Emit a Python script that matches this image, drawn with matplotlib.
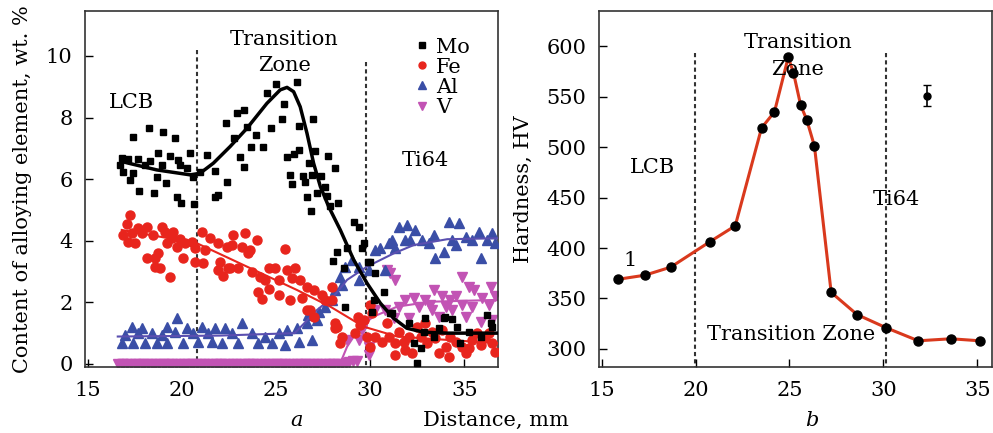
import matplotlib
matplotlib.use('Agg')
import matplotlib.pyplot as plt
from matplotlib.lines import Line2D

plt.rcParams['font.family'] = 'DejaVu Serif'
plt.rcParams['font.size'] = 15

# ---- panel a: alloying element content ----
mo_x = [17.43, 18.26, 19.02, 19.64, 18.76, 19.38, 19.82, 20.44, 17.16, 17.69, 18.31, 16.89,
        17.43, 18.05, 18.94, 19.91, 20.27, 17.25, 18.67, 19.16, 17.74, 18.53, 19.73, 20.62,
        20.97, 21.33, 21.77, 22.39, 21.91, 22.34, 22.93, 23.33, 22.78, 23.10, 23.28, 23.67,
        23.46, 23.95, 24.34, 24.55, 25.02, 26.12, 25.44, 25.32, 24.73, 26.24, 26.97, 25.59,
        25.94, 26.20, 27.05, 27.74, 28.15, 25.76, 26.44, 26.91, 27.39, 25.85, 26.56, 27.18,
        27.62, 27.71, 19.96, 20.67, 21.77, 26.77, 26.65, 26.88, 28.30, 27.89, 29.13, 29.39,
        29.70, 28.24, 28.78, 28.03, 28.60, 29.87, 28.69, 30.19, 30.11, 30.72, 31.08, 32.05,
        32.32, 32.50, 32.85, 32.68, 33.38, 33.99, 34.63, 35.24, 36.22, 36.49, 34.80, 35.87,
        29.57, 30.02, 30.28, 31.17, 32.94, 33.91, 34.36, 36.40, 33.65, 16.72, 16.80]
mo_y = [7.36, 7.66, 7.53, 7.35, 6.84, 6.75, 6.62, 6.84, 6.65, 6.65, 6.60, 6.24,
        6.19, 6.45, 6.47, 6.46, 6.35, 5.97, 6.08, 5.89, 5.63, 5.54, 5.43, 6.08,
        6.24, 6.79, 6.27, 5.92, 5.49, 7.83, 8.14, 8.25, 7.33, 6.73, 6.41, 7.06,
        7.70, 7.44, 7.06, 8.79, 9.09, 9.17, 8.44, 7.94, 7.67, 7.73, 7.94, 6.73,
        6.82, 6.95, 6.93, 6.75, 6.35, 6.14, 6.10, 6.14, 6.10, 5.84, 5.92, 5.54,
        5.76, 5.45, 5.24, 5.19, 5.41, 6.54, 5.43, 4.95, 5.22, 5.13, 4.62, 4.46,
        3.92, 3.65, 3.76, 3.34, 3.11, 3.32, 1.86, 2.08, 1.70, 2.35, 1.65, 1.32,
        0.67, 0.02, 1.05, 0.51, 0.89, 1.54, 1.21, 1.05, 1.59, 1.21, 0.67, 0.89,
        3.76, 3.32, 2.94, 1.67, 1.48, 1.48, 1.45, 1.32, 1.16, 6.45, 6.70]
mo_fit_x = [16.9, 17.16, 18.67, 20.44, 20.97, 21.68, 22.57, 23.46, 24.52, 25.23, 25.59, 25.94,
            26.29, 26.65, 27.0, 27.36, 27.80, 28.42, 29.13, 29.84, 30.55, 31.26, 31.95, 32.85,
            34.10, 36.8]
mo_fit_y = [6.56, 6.52, 6.30, 6.14, 6.19, 6.52, 7.06, 7.65, 8.46, 8.90, 8.98, 8.84,
            8.35, 7.49, 6.52, 5.76, 5.11, 4.35, 3.38, 2.62, 1.97, 1.48, 1.16, 1.03,
            1.0, 1.0]

fe_x = [17.25, 17.07, 17.69, 18.14, 18.94, 16.89, 17.34, 17.87, 18.49, 19.11, 19.55, 19.47,
        19.91, 20.18, 20.53, 21.06, 21.50, 21.95, 22.39, 17.52, 17.16, 19.20, 19.73, 20.71,
        21.24, 18.76, 18.14, 18.58, 20.09, 20.71, 21.15, 22.04, 18.58, 18.85, 19.38, 21.95,
        22.21, 22.57, 22.74, 23.37, 23.99, 22.66, 23.19, 23.63, 23.54, 25.49, 22.48, 23.01,
        23.72, 24.16, 24.61, 24.96, 25.59, 26.03, 24.43, 25.14, 25.85, 26.29, 24.07, 24.61,
        25.14, 25.76, 24.25, 26.65, 27.00, 27.45, 27.98, 26.38, 27.62, 26.65, 27.00, 28.15,
        28.51, 28.42, 28.15, 29.22, 29.48, 29.38, 29.66, 30.02, 30.11, 29.82, 30.28, 30.64,
        30.99, 31.35, 31.79, 31.88, 32.23, 32.68, 32.94, 33.03, 33.47, 33.65, 34.01, 34.27,
        34.54, 34.89, 35.07, 35.43, 35.87, 36.13, 36.49, 36.66, 32.50, 30.90, 31.52, 33.83,
        33.30, 32.05, 35.69, 36.31, 35.24, 34.18, 31.35, 30.02, 27.97, 28.24, 26.82]
fe_y = [4.84, 4.55, 4.41, 4.46, 4.46, 4.19, 4.24, 4.24, 4.19, 4.30, 4.30, 4.08,
        4.05, 3.92, 3.97, 4.30, 4.08, 3.92, 3.81, 3.92, 3.97, 3.92, 3.81, 3.76,
        3.70, 3.61, 3.43, 3.43, 3.43, 3.32, 3.27, 3.32, 3.16, 3.11, 2.83, 3.05,
        2.86, 3.11, 4.19, 4.24, 4.03, 3.86, 3.81, 3.70, 3.59, 3.72, 3.11, 3.11,
        3.00, 2.83, 3.11, 3.11, 3.05, 3.11, 2.73, 2.73, 2.78, 2.73, 2.35, 2.42,
        2.24, 2.08, 2.10, 2.49, 2.40, 2.24, 2.51, 2.13, 2.08, 1.75, 1.54, 1.16,
        0.89, 0.67, 1.32, 1.00, 1.27, 1.54, 1.43, 1.92, 1.65, 0.89, 0.89, 0.72,
        0.89, 0.67, 0.72, 0.45, 0.35, 0.89, 1.32, 0.67, 0.83, 0.35, 0.56, 0.89,
        0.72, 0.56, 0.35, 0.78, 0.62, 0.89, 0.67, 0.40, 1.21, 1.32, 1.05, 1.10,
        1.05, 0.89, 1.00, 1.00, 0.51, 0.24, 0.29, 0.56, 2.08, 1.21, 1.75]
fe_fit_x = [16.81, 20.80, 23.46, 26.12, 27.89, 29.66, 31.44, 34.10, 36.8]
fe_fit_y = [4.35, 3.92, 3.16, 2.40, 1.86, 1.21, 0.89, 0.78, 0.67]

al_x = [17.34, 17.87, 19.73, 19.20, 20.27, 21.06, 21.77, 22.30, 16.98, 17.69, 18.40, 18.94,
        19.64, 20.62, 21.41, 16.81, 17.43, 18.05, 18.67, 19.20, 20.09, 20.88, 21.60, 22.13,
        23.19, 22.66, 23.72, 24.43, 25.14, 25.59, 26.12, 26.65, 23.01, 24.07, 24.79, 25.49,
        26.20, 26.91, 26.73, 27.27, 27.62, 27.97, 27.18, 28.15, 28.42, 28.69, 29.04, 28.51,
        29.39, 29.39, 29.92, 30.81, 30.28, 30.55, 30.99, 31.17, 31.52, 31.97, 32.41, 32.14,
        32.77, 33.38, 33.46, 33.91, 34.18, 34.71, 34.36, 35.07, 35.43, 35.87, 35.78, 36.22,
        36.49, 36.66, 31.35, 31.88, 33.12, 34.54]
al_y = [1.21, 1.16, 1.48, 1.21, 1.16, 1.21, 1.16, 1.16, 0.94, 1.00, 1.00, 0.94,
        1.05, 1.00, 1.00, 0.67, 0.67, 0.67, 0.67, 0.69, 0.67, 0.72, 0.72, 0.67,
        1.32, 1.00, 1.00, 0.89, 1.00, 1.10, 1.16, 1.32, 0.67, 0.67, 0.67, 0.62,
        0.72, 0.78, 1.59, 1.70, 1.86, 2.08, 1.43, 2.40, 2.83, 3.16, 3.38, 2.56,
        2.73, 3.16, 3.05, 3.05, 3.70, 3.76, 3.92, 4.03, 4.46, 4.51, 4.35, 4.03,
        4.03, 4.19, 3.43, 3.65, 4.62, 4.57, 4.03, 4.13, 4.03, 3.43, 4.30, 4.03,
        4.24, 3.92, 3.76, 4.03, 3.92, 3.86]
al_fit_x = [16.6, 22.0, 26.0, 27.18, 28.06, 28.78, 29.84, 31.26, 32.32, 34.10, 36.8]
al_fit_y = [0.89, 0.92, 1.0, 1.75, 2.19, 2.73, 3.16, 3.59, 3.86, 4.05, 4.08]

v_x = [16.6, 16.8, 16.9, 17.1, 17.3, 17.5, 17.7, 17.9, 18.0, 18.2, 18.4, 18.6, 18.8, 19.0,
       19.1, 19.3, 19.5, 19.7, 19.9, 20.1, 20.3, 20.5, 20.6, 20.8, 21.0, 21.2, 21.4, 21.6,
       21.8, 22.0, 22.1, 22.3, 22.5, 22.7, 22.9, 23.1, 23.3, 23.5, 23.6, 23.8, 24.0, 24.2,
       24.4, 24.6, 24.8, 25.0, 25.1, 25.3, 25.5, 25.7, 25.9, 26.1, 26.3, 26.5, 26.6, 26.8,
       27.0, 27.2, 27.4, 27.6, 27.8, 28.0, 28.1, 28.3, 28.5, 28.7, 28.9, 29.1, 29.3,
       28.78, 29.39, 29.56, 29.75, 29.92, 29.92, 30.28, 30.81, 31.26, 32.05, 33.65, 35.07,
       35.87, 36.49, 33.30, 34.36, 31.52, 32.59, 33.21, 34.01, 34.89, 35.43, 36.31, 31.88,
       32.32, 32.94, 33.83, 34.27, 34.54, 35.96, 36.66, 33.38, 34.89, 35.24, 35.51, 36.40,
       30.90, 31.35, 31.08]
v_y = [0.0, 0.0, 0.0, 0.0, 0.0, 0.0, 0.0, 0.0, 0.0, 0.0, 0.0, 0.0, 0.0, 0.0,
       0.0, 0.0, 0.0, 0.0, 0.0, 0.0, 0.0, 0.0, 0.0, 0.0, 0.0, 0.0, 0.0, 0.0,
       0.0, 0.0, 0.0, 0.0, 0.0, 0.0, 0.0, 0.0, 0.0, 0.0, 0.0, 0.0, 0.0, 0.0,
       0.0, 0.0, 0.0, 0.0, 0.0, 0.0, 0.0, 0.0, 0.0, 0.0, 0.0, 0.0, 0.0, 0.0,
       0.0, 0.0, 0.0, 0.0, 0.0, 0.0, 0.0, 0.0, 0.0, 0.02, 0.05, 0.08, 0.1,
       0.78, 0.78, 1.10, 1.37, 0.56, 0.29, 1.75, 1.75, 1.48, 1.48, 1.54, 1.54,
       1.37, 1.43, 1.75, 1.75, 1.86, 1.86, 1.92, 1.86, 1.92, 1.86, 1.92, 2.08,
       2.13, 2.08, 2.19, 2.08, 2.19, 2.13, 2.19, 2.40, 2.83, 2.51, 2.40, 2.51,
       3.05, 2.73, 2.94]
v_fit_x = [16.6, 28.4, 28.78, 29.48, 30.19, 31.44, 33.21, 36.8]
v_fit_y = [0.0, 0.0, 0.56, 1.21, 1.54, 1.86, 2.02, 2.08]

# ---- panel b: hardness ----
hv_x = [15.87, 17.29, 18.67, 20.74, 22.11, 23.51, 24.20, 24.93, 25.21, 25.59, 25.92, 26.33,
        27.22, 28.60, 30.14, 31.86, 33.60, 35.14]
hv_y = [369, 373, 381, 406, 422, 519, 535, 589, 574, 542, 527, 501,
        356, 334, 321, 308, 310, 308]

MO_C = 'black'
FE_C = '#e8251d'
AL_C = '#3a4ea6'
V_C = '#c253b4'

fig = plt.figure(figsize=(9.93, 4.33), dpi=100)
ax1 = fig.add_axes([0.0856, 0.1524, 0.416, 0.8222])
ax2 = fig.add_axes([0.6032, 0.1524, 0.396, 0.8222])

# panel a
ax1.plot(v_fit_x, v_fit_y, color=V_C, lw=1.5, zorder=2)
ax1.plot(v_x, v_y, linestyle='none', marker='v', ms=7, color=V_C, zorder=2)
ax1.plot(al_x, al_y, linestyle='none', marker='^', ms=7, color=AL_C, zorder=3)
ax1.plot(al_fit_x, al_fit_y, color='#5a4fb0', lw=1.5, zorder=3)
ax1.plot(fe_x, fe_y, linestyle='none', marker='o', ms=6.5, color=FE_C, zorder=4)
ax1.plot(fe_fit_x, fe_fit_y, color=FE_C, lw=1.5, zorder=4)
ax1.plot(mo_x, mo_y, linestyle='none', marker='s', ms=5, color=MO_C, zorder=5)
ax1.plot(mo_fit_x, mo_fit_y, color=MO_C, lw=2.5, zorder=6)

ax1.plot([20.8, 20.8], [10.2, -0.1], color='#333333', lw=1.5, ls=(0, (2, 1.5)), zorder=1)
ax1.plot([29.8, 29.8], [9.8, -0.1], color='#333333', lw=1.5, ls=(0, (2, 1.5)), zorder=1)

ax1.text(17.35, 8.5, 'LCB', ha='center', va='center')
ax1.text(25.45, 10.55, 'Transition', ha='center', va='center')
ax1.text(25.45, 9.7, 'Zone', ha='center', va='center')
ax1.text(32.95, 6.6, 'Ti64', ha='center', va='center')

handles = [Line2D([], [], ls='none', marker='s', ms=5, color=MO_C),
           Line2D([], [], ls='none', marker='o', ms=5, color=FE_C),
           Line2D([], [], ls='none', marker='^', ms=6, color=AL_C),
           Line2D([], [], ls='none', marker='v', ms=6, color=V_C)]
ax1.legend(handles, ['Mo', 'Fe', 'Al', 'V'], loc='upper left', bbox_to_anchor=(0.795, 0.925),
           frameon=False, handlelength=0.8, handletextpad=0.3, labelspacing=0.05,
           borderpad=0, borderaxespad=0, fontsize=15)

ax1.set_xlim(14.86, 36.8)
ax1.set_ylim(-0.1, 11.46)
ax1.set_xticks([15, 20, 25, 30, 35])
ax1.set_yticks([0, 2, 4, 6, 8, 10])
ax1.set_ylabel('Content of alloying element, wt. %', labelpad=10)

# panel b
ax2.plot(hv_x, hv_y, color='#d9391d', lw=2.2, zorder=3)
ax2.plot(hv_x, hv_y, linestyle='none', marker='o', ms=6.5, color='black', zorder=4)
ax2.errorbar([32.3], [551], yerr=[10.5], fmt='o', ms=5, color='black', capsize=3, lw=1.2)

ax2.plot([19.95, 19.95], [593, 280], color='#333333', lw=1.5, ls=(0, (2, 1.5)), zorder=1)
ax2.plot([30.14, 30.14], [593, 280], color='#333333', lw=1.5, ls=(0, (2, 1.5)), zorder=1)

ax2.text(25.45, 604, 'Transition', ha='center', va='center', zorder=5)
ax2.text(25.45, 577, 'Zone', ha='center', va='center', zorder=5)
ax2.text(17.7, 480, 'LCB', ha='center', va='center')
ax2.text(30.7, 448, 'Ti64', ha='center', va='center')
ax2.text(25.1, 314.5, 'Transition Zone', ha='center', va='center')
ax2.text(16.5, 388, '1', ha='center', va='center')

ax2.set_xlim(14.85, 35.8)
ax2.set_ylim(282, 635)
ax2.set_xticks([15, 20, 25, 30, 35])
ax2.set_yticks([300, 350, 400, 450, 500, 550, 600])
ax2.set_ylabel('Hardness, HV', labelpad=10)

for ax in (ax1, ax2):
    ax.tick_params(direction='in', length=6, width=1, labelsize=15, top=False, right=False)
    ax.tick_params(axis='x', pad=10)
    ax.tick_params(axis='y', pad=9)
    for s in ax.spines.values():
        s.set_linewidth(1.2)
        s.set_color('#333333')

fig.text(0.499, 0.028, 'Distance, mm', ha='center', va='center', fontsize=15)
fig.text(0.299, 0.028, 'a', ha='center', va='center', fontsize=15, style='italic')
fig.text(0.818, 0.028, 'b', ha='center', va='center', fontsize=15, style='italic')

fig.savefig('out.png', dpi=100)
